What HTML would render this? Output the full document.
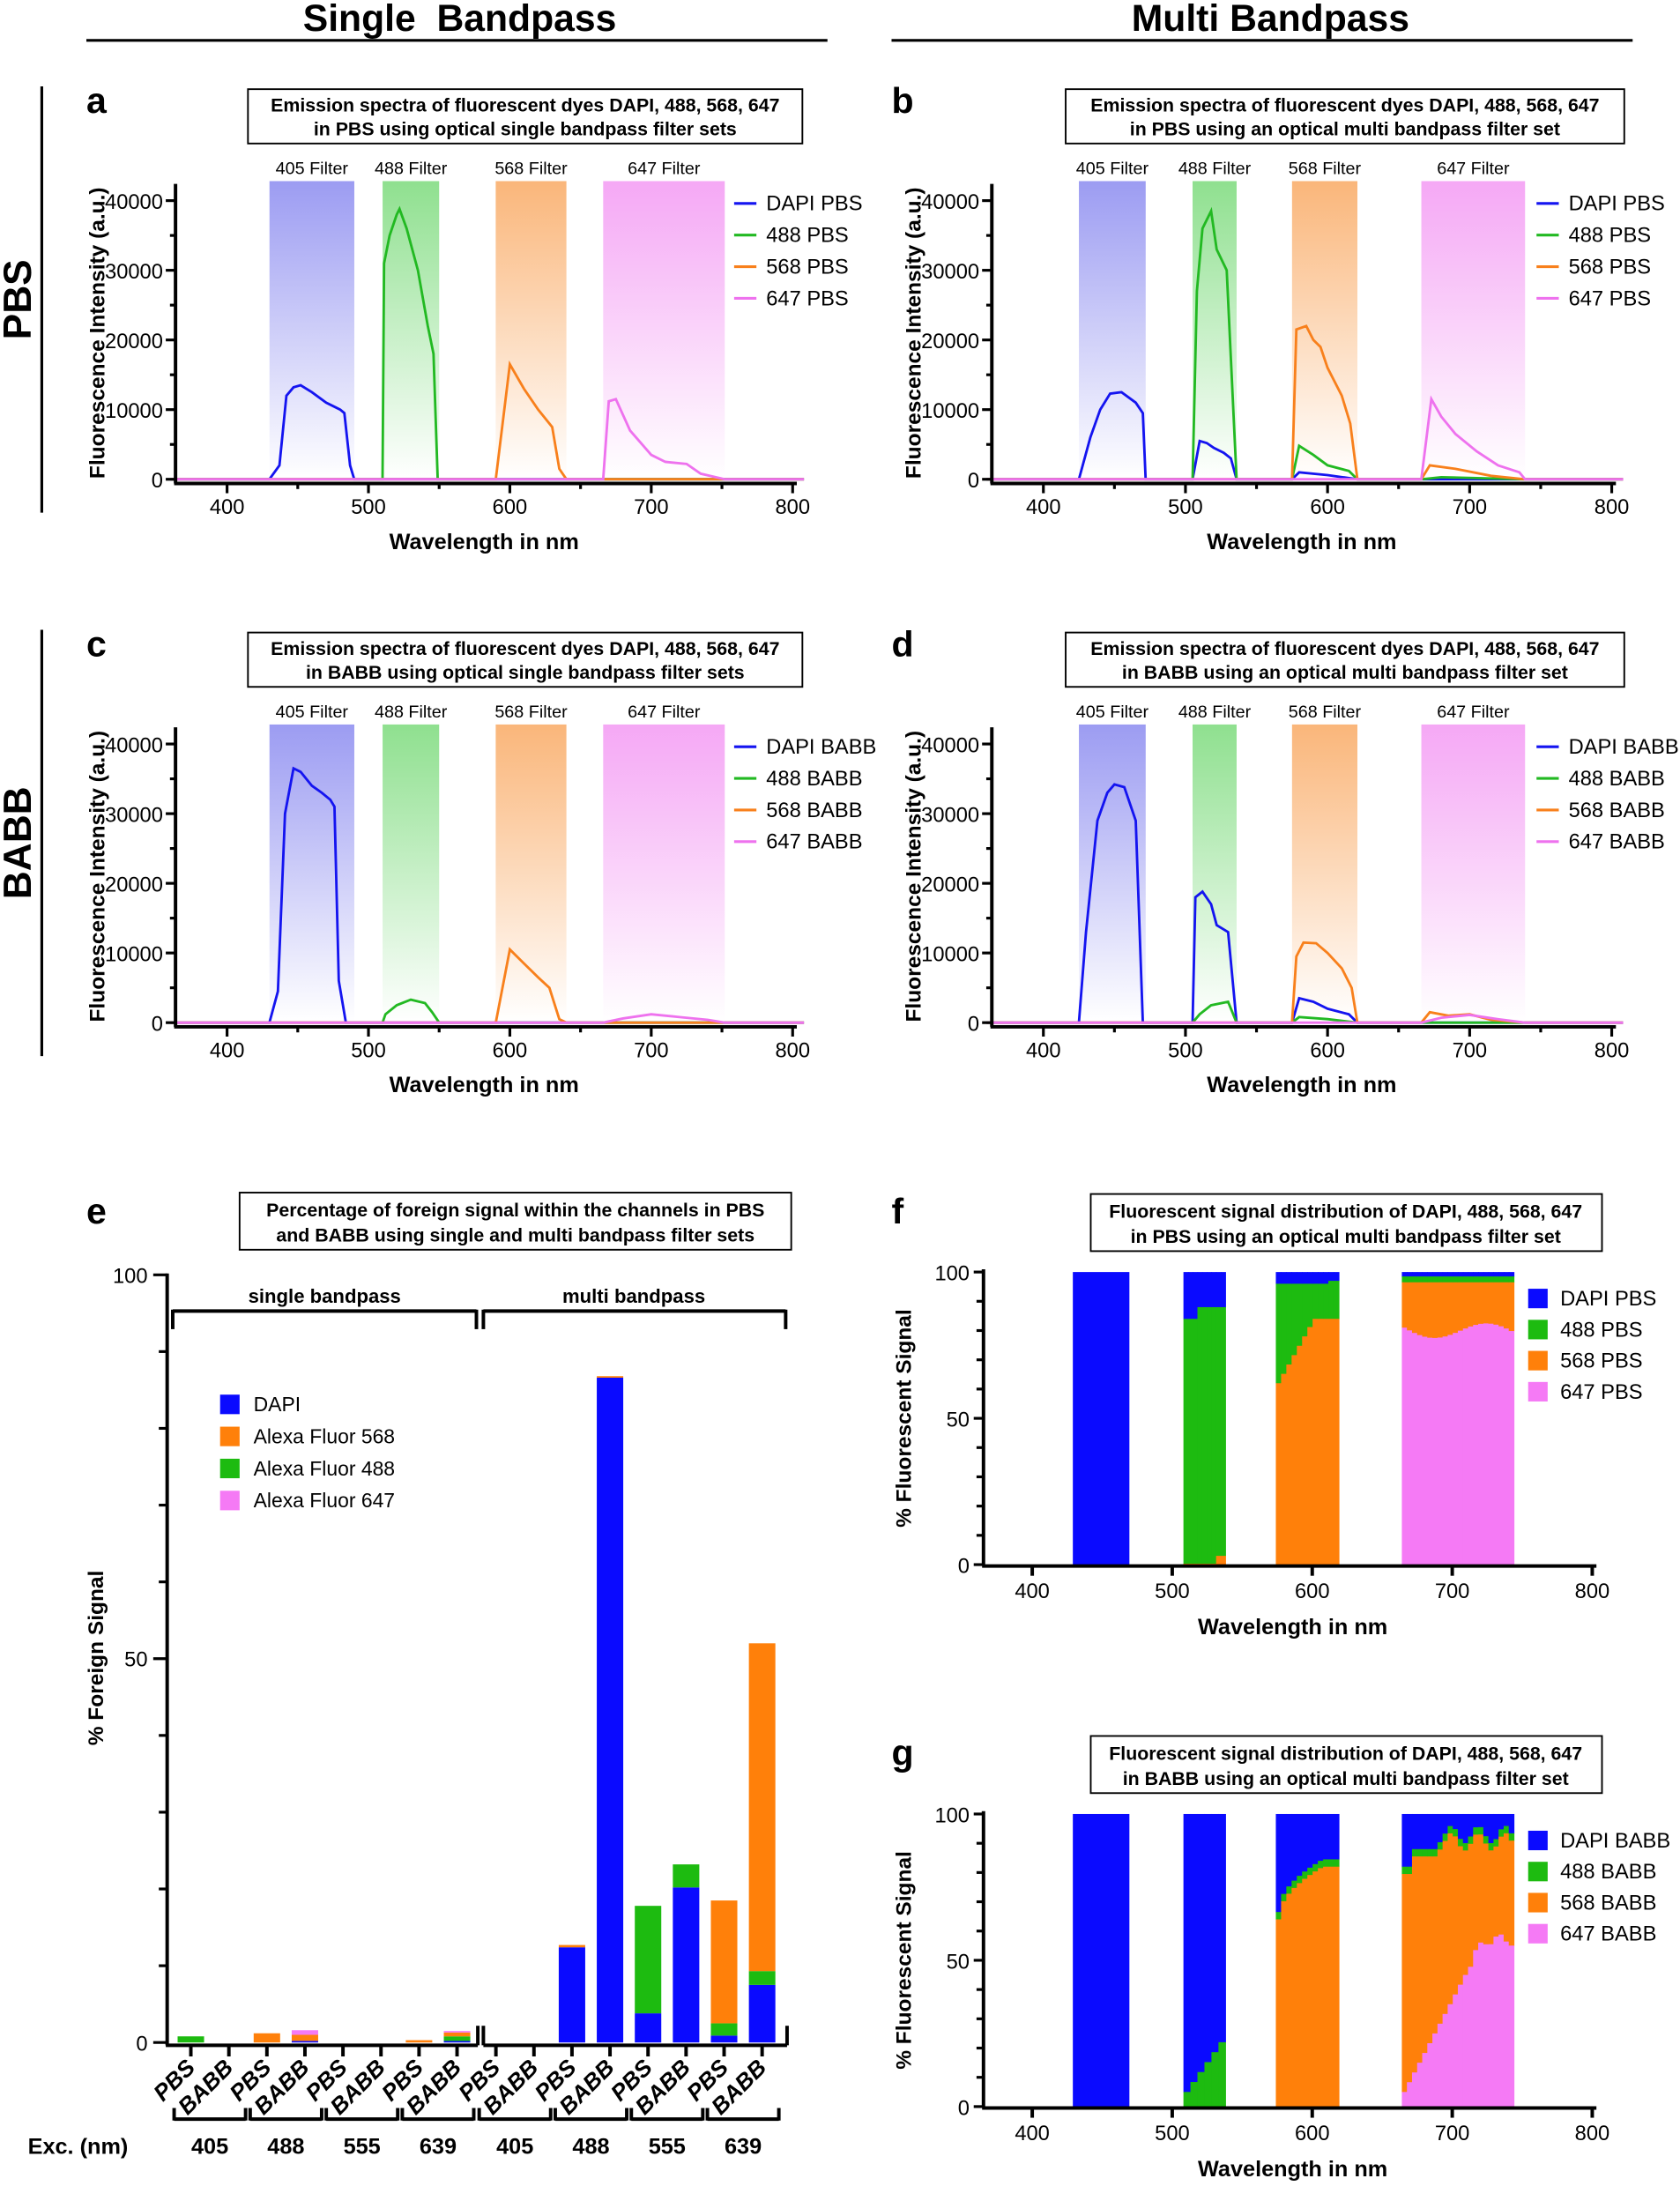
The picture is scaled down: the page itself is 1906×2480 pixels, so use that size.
<!DOCTYPE html>
<html><head><meta charset="utf-8"><style>
html,body{margin:0;padding:0;background:#fff}
svg{display:block}
text{font-family:"Liberation Sans",Arial,sans-serif}
</style></head><body>
<svg id="s" xmlns="http://www.w3.org/2000/svg" width="1906" height="2480" viewBox="0 0 1206 1569" preserveAspectRatio="none">
<defs>
<linearGradient id="gB" x1="0" y1="0" x2="0" y2="1"><stop offset="0" stop-color="#9c9cf2"/><stop offset="1" stop-color="#fff"/></linearGradient>
<linearGradient id="gG" x1="0" y1="0" x2="0" y2="1"><stop offset="0" stop-color="#8fe08f"/><stop offset="1" stop-color="#fff"/></linearGradient>
<linearGradient id="gO" x1="0" y1="0" x2="0" y2="1"><stop offset="0" stop-color="#fab67a"/><stop offset="1" stop-color="#fff"/></linearGradient>
<linearGradient id="gP" x1="0" y1="0" x2="0" y2="1"><stop offset="0" stop-color="#f5a8f5"/><stop offset="1" stop-color="#fff"/></linearGradient>
</defs>
</svg>
<script>
const S=document.getElementById('s');let h='';
const C={b:'#1414f0',g:'#22b922',o:'#f8801c',p:'#ee72ee'};
const BC={b:'#0a0aff',g:'#1dbb10',o:'#ff800a',p:'#f57af5'};
function T(x,y,t,o){o=o||{};h+=`<text x="${x}" y="${y}" font-size="${o.s||15}" ${o.b?'font-weight="bold"':''} text-anchor="${o.a||'start'}" ${o.r?`transform="rotate(${o.r} ${x} ${y})"`:''} ${o.i?'font-style="italic"':''}>${t}</text>`;}
function L(x1,y1,x2,y2,w,c){h+=`<line x1="${x1}" y1="${y1}" x2="${x2}" y2="${y2}" stroke="${c||'#000'}" stroke-width="${w||2}"/>`;}
function R(x,y,w,hh,c,st){h+=`<rect x="${x}" y="${y}" width="${w}" height="${hh}" fill="${c}" ${st||''}/>`;}
T(330,22,'Single&#160; Bandpass',{s:27,b:1,a:'middle'});L(62,29,594,29,2);
T(912,22,'Multi Bandpass',{s:27,b:1,a:'middle'});L(640,29,1172,29,2);
L(30,62,30,368,2);L(30,452,30,758,2);
T(22,215,'PBS',{s:28,b:1,a:'middle',r:-90});T(22,605,'BABB',{s:28,b:1,a:'middle',r:-90});

function linePanel(o){
 const y0=o.y0,fx=w=>o.x400+(w-400)*o.k,fy=v=>y0-v*0.005;
 const ax=o.x400-37;
 const gs=['gB','gG','gO','gP'],names=['405 Filter','488 Filter','568 Filter','647 Filter'];
 o.f.forEach((f,i)=>{R(fx(f[0]),y0-214,fx(f[1])-fx(f[0]),214,`url(#${gs[i]})`);T((fx(f[0])+fx(f[1]))/2,y0-219,names[i],{s:12.5,a:'middle'});});
 const cols=['b','g','o','p'];
 o.c.forEach((segs,i)=>{let pts=[[360,0]];segs.forEach(p=>pts.push(p));pts.push([808,0]);
  h+=`<polyline fill="none" stroke="${C[cols[i]]}" stroke-width="1.8" points="${pts.map(p=>fx(p[0]).toFixed(1)+','+fy(p[1]).toFixed(1)).join(' ')}"/>`;});
 L(ax,y0-212,ax,y0+3,2.5);L(ax-1,y0+3,fx(800)+3,y0+3,2.5);
 for(let v=0;v<=40000;v+=5000){const y=fy(v);L(ax-(v%10000?4:7),y,ax,y,2);if(v%10000==0)T(ax-9,y+6,v,{s:15,a:'end'});}
 for(let w=400;w<=800;w+=50){const x=fx(w);L(x,y0+3,x,y0+(w%100?7:10),2);if(w%100==0)T(x,y0+25,w,{s:15,a:'middle'});}
 T(ax-51,y0-105,'Fluorescence Intensity (a.u.)',{s:15.5,b:1,a:'middle',r:-90});
 T((ax+fx(800))/2,y0+50,'Wavelength in nm',{s:16,b:1,a:'middle'});
 h+=`<rect x="${o.tx[0]}" y="${y0-280}" width="${o.tx[1]-o.tx[0]}" height="39" fill="none" stroke="#000" stroke-width="1.2"/>`;
 T((o.tx[0]+o.tx[1])/2,y0-264,o.t1,{s:13.5,b:1,a:'middle'});T((o.tx[0]+o.tx[1])/2,y0-247,o.t2,{s:13.5,b:1,a:'middle'});
 T(o.lt,y0-263,o.letter,{s:26,b:1});
 o.leg.forEach((n,i)=>{const y=y0-198+i*22.7;L(o.lx,y,o.lx+16,y,2,C[cols[i]]);T(o.lx+23,y+5,n,{s:15});});
}
const fa=[[430,490],[510,550],[590,640],[666,752]],fb=[[425,472],[505,536],[575,621],[666,739]];
linePanel({y0:344,x400:163,k:1.015,f:fa,tx:[178,576],lx:527,lt:62,letter:'a',t1:'Emission spectra of fluorescent dyes DAPI, 488, 568, 647',t2:'in PBS using optical single bandpass filter sets',leg:['DAPI PBS','488 PBS','568 PBS','647 PBS'],
c:[[[430,0],[437,2000],[442,12000],[447,13200],[452,13500],[460,12500],[470,11000],[480,10000],[483,9500],[487,2000],[490,0]],
[[510,0],[511,31000],[515,35000],[520,38000],[522,38800],[527,36000],[535,30000],[542,22000],[546,18000],[549,0]],
[[590,0],[600,16500],[610,13000],[620,10000],[630,7500],[635,1500],[640,0]],
[[666,0],[670,11200],[675,11500],[685,7000],[700,3500],[710,2500],[725,2200],[735,800],[752,0]]]});
linePanel({y0:344,x400:749,k:1.02,f:fb,tx:[765,1166],lx:1103,lt:640,letter:'b',t1:'Emission spectra of fluorescent dyes DAPI, 488, 568, 647',t2:'in PBS using an optical multi bandpass filter set',leg:['DAPI PBS','488 PBS','568 PBS','647 PBS'],
c:[[[425,0],[433,6000],[440,10000],[447,12300],[455,12500],[465,11000],[470,9500],[472,0],[505,0],[510,5500],[515,5200],[520,4500],[527,3800],[532,3000],[536,0],[575,0],[580,1000],[600,600],[621,0]],
[[505,0],[508,27000],[512,36000],[518,38500],[522,33000],[529,30000],[536,0],[575,0],[580,4800],[590,3500],[600,2000],[615,1200],[621,0],[666,0],[680,300],[739,0]],
[[575,0],[578,21500],[585,22000],[590,20000],[595,19000],[600,16000],[610,12000],[616,8000],[621,0],[666,0],[672,2000],[690,1500],[715,500],[739,0]],
[[666,0],[673,11500],[680,9000],[690,6500],[705,4000],[720,2000],[735,1000],[739,0]]]});
linePanel({y0:734,x400:163,k:1.015,f:fa,tx:[178,576],lx:527,lt:62,letter:'c',t1:'Emission spectra of fluorescent dyes DAPI, 488, 568, 647',t2:'in BABB using optical single bandpass filter sets',leg:['DAPI BABB','488 BABB','568 BABB','647 BABB'],
c:[[[430,0],[436,4500],[441,30000],[447,36500],[452,36000],[460,34000],[467,33000],[473,32000],[476,31000],[479,6000],[484,0]],
[[510,0],[512,1200],[520,2500],[530,3300],[540,2800],[545,1500],[550,0]],
[[590,0],[600,10500],[610,8500],[620,6500],[628,5000],[635,500],[640,0]],
[[666,0],[680,600],[700,1200],[720,800],[740,400],[752,0]]]});
linePanel({y0:734,x400:749,k:1.02,f:fb,tx:[765,1166],lx:1103,lt:640,letter:'d',t1:'Emission spectra of fluorescent dyes DAPI, 488, 568, 647',t2:'in BABB using an optical multi bandpass filter set',leg:['DAPI BABB','488 BABB','568 BABB','647 BABB'],
c:[[[425,0],[430,13000],[438,29000],[445,33000],[450,34200],[457,33800],[465,29000],[470,0],[505,0],[507,18000],[512,18800],[518,17000],[522,14000],[530,13000],[536,0],[575,0],[580,3500],[590,3000],[600,2000],[615,1200],[621,0]],
[[505,0],[510,1200],[518,2500],[530,3000],[536,0],[575,0],[580,800],[600,500],[621,0]],
[[575,0],[578,9500],[583,11500],[592,11400],[600,10000],[610,7800],[617,5000],[621,0],[666,0],[672,1500],[685,1000],[700,1200],[715,400],[739,0]],
[[666,0],[680,700],[700,1100],[720,500],[739,0]]]});

(function(){
 const y0=1466,fy=v=>y0-v*5.51;
 h+=`<rect x="172" y="856" width="396" height="41" fill="none" stroke="#000" stroke-width="1.2"/>`;
 T(370,873,'Percentage of foreign signal within the channels in PBS',{s:13.5,b:1,a:'middle'});T(370,891,'and BABB using single and multi bandpass filter sets',{s:13.5,b:1,a:'middle'});
 T(62,878,'e',{s:26,b:1});
 L(120,914,120,y0+2,2.5);
 for(let v=0;v<=100;v+=10){L(v%50?114:110,fy(v),120,fy(v),2);}
 T(106,921,'100',{s:15,a:'end'});T(106,1196,'50',{s:15,a:'end'});T(106,1472,'0',{s:15,a:'end'});
 T(74,1190,'% Foreign Signal',{s:15.5,b:1,a:'middle',r:-90});
 L(119,y0+2,343,y0+2,2.5);L(347,y0+2,565,y0+2,2.5);
 L(343,y0+2,343,y0-12,2.5);L(347,y0+2,347,y0-12,2.5);L(565,y0+2,565,y0-12,2.5);
 L(124,941,342,941,2.5);L(124,940,124,954,2.5);L(342,940,342,954,2.5);T(233,935,'single bandpass',{s:14,b:1,a:'middle'});
 L(347,941,564,941,2.5);L(347,940,347,954,2.5);L(564,940,564,954,2.5);T(455,935,'multi bandpass',{s:14,b:1,a:'middle'});
 [['b','DAPI'],['o','Alexa Fluor 568'],['g','Alexa Fluor 488'],['p','Alexa Fluor 647']].forEach((l,i)=>{const y=1001+i*23;R(158,y,14,14,BC[l[0]]);T(182,y+12,l[1],{s:14.5});});
 const cen=[];for(let i=0;i<8;i++)cen.push(137+i*27.3);for(let i=0;i<8;i++)cen.push(356+i*27.3);
 const bars={0:[['g',0.8]],2:[['o',1.2]],3:[['b',0.2],['o',0.8],['p',0.6]],6:[['o',0.3]],7:[['b',0.2],['g',0.6],['o',0.5],['p',0.2]],
  10:[['b',12.4],['o',0.3]],11:[['b',86.6],['o',0.2]],12:[['b',3.8],['g',14.0]],13:[['b',20.2],['g',3.0]],14:[['b',0.9],['g',1.6],['o',16.0]],15:[['b',7.5],['g',1.8],['o',42.7]]};
 for(const k in bars){let acc=0;bars[k].forEach(s=>{R(cen[k]-9.5,fy(acc+s[1]),19,s[1]*5.51,BC[s[0]]);acc+=s[1];});}
 cen.forEach((x,i)=>{L(x,y0+3,x,y0+10,2.5);T(x+4,y0+19,i%2?'BABB':'PBS',{s:16.5,b:1,i:1,a:'end',r:-45});});
 const lab=['405','488','555','639','405','488','555','639'];
 for(let j=0;j<8;j++){const a=cen[2*j]-12,b=cen[2*j+1]+12;L(a,1521,b,1521,2.5);L(a,1513,a,1522,2.5);L(b,1513,b,1522,2.5);T((a+b)/2,1546,lab[j],{s:16,b:1,a:'middle'});}
 T(20,1546,'Exc. (nm)',{s:16,b:1});
})();

function distPanel(o){
 const y0=o.y0,fx=w=>741+(w-400)*1.005,fy=v=>y0-v*2.1;
 h+=`<rect x="783" y="${y0-266}" width="367" height="41" fill="none" stroke="#000" stroke-width="1.2"/>`;
 T(966,y0-249,'Fluorescent signal distribution of DAPI, 488, 568, 647',{s:13.5,b:1,a:'middle'});T(966,y0-231,o.t2,{s:13.5,b:1,a:'middle'});
 T(640,y0-245,o.letter,{s:26,b:1});
 o.cols.forEach(c=>{const x=fx(c[0]),w=fx(c[1])-fx(c[0]);let y=fy(100);
   ['b','g','o','p'].forEach((k,i)=>{const v=c[2][i];if(v>0){R(x,y,w+0.4,v*2.1+0.3,BC[k]);y+=v*2.1;}});});
 L(706,y0-212,706,y0+1,2.5);L(705,y0+1,fx(800)+3,y0+1,2.5);
 for(let v=0;v<=100;v+=10)L(v%50?701:699,fy(v),706,fy(v),2);
 T(696,fy(100)+6,'100',{s:15,a:'end'});T(696,fy(50)+6,'50',{s:15,a:'end'});T(696,fy(0)+6,'0',{s:15,a:'end'});
 for(let w=400;w<=800;w+=100){L(fx(w),y0+1,fx(w),y0+8,2.5);T(fx(w),y0+24,w,{s:15,a:'middle'});}
 T(654,y0-105,'% Fluorescent Signal',{s:15.5,b:1,a:'middle',r:-90});
 T(928,y0+50,'Wavelength in nm',{s:16,b:1,a:'middle'});
 o.leg.forEach((n,i)=>{const y=y0-198+i*22.3;R(1097,y,14,14,BC['bgop'[i]]);T(1120,y+12,n,{s:15});});
}
function steps(a,b,n,fn){const r=[];for(let i=0;i<n;i++){const w0=a+(b-a)*i/n,w1=a+(b-a)*(i+1)/n;r.push([w0,w1,fn(i/(n-1))]);}return r;}
let fcols=[[429,469,[100,0,0,0]]];
fcols=fcols.concat(steps(508,538,9,t=>{const o=t>0.85?3:0.3;const b=t<0.3?16:12;return [b,100-b-o,o,0];}));
fcols=fcols.concat(steps(574,619,12,t=>{const o=62+22*Math.min(1,t*1.6);const b=t<0.9?4:3;return [b,100-b-o,o,0];}));
fcols=fcols.concat(steps(664,744,22,t=>{const p=81-3*Math.sin(t*6)-t*2;const b=1.5,g=2;return [b,g,100-b-g-p,p];}));
distPanel({y0:1123,letter:'f',t2:'in PBS using an optical multi bandpass filter set',leg:['DAPI PBS','488 PBS','568 PBS','647 PBS'],cols:fcols});
let gcols=[[429,469,[100,0,0,0]]];
gcols=gcols.concat(steps(508,538,6,t=>{const g=5+17*t;return [100-g,g,0,0];}));
gcols=gcols.concat(steps(574,619,12,t=>{const o=64+18*Math.min(1,Math.sqrt(t*1.3));return [100-o-2.5,2.5,o,0];}));
gcols=gcols.concat(steps(664,744,22,t=>{const p=Math.min(57,5+70*t)+(t>0.6?2*Math.sin(t*30):0);const b=t<0.05?18:(t<0.3?12:5+3*Math.sin(t*25)+2);const g=2.5;return [b,g,100-b-g-p,p];}));
distPanel({y0:1512,letter:'g',t2:'in BABB using an optical multi bandpass filter set',leg:['DAPI BABB','488 BABB','568 BABB','647 BABB'],cols:gcols});
S.insertAdjacentHTML('beforeend',h);
</script>
</body></html>
